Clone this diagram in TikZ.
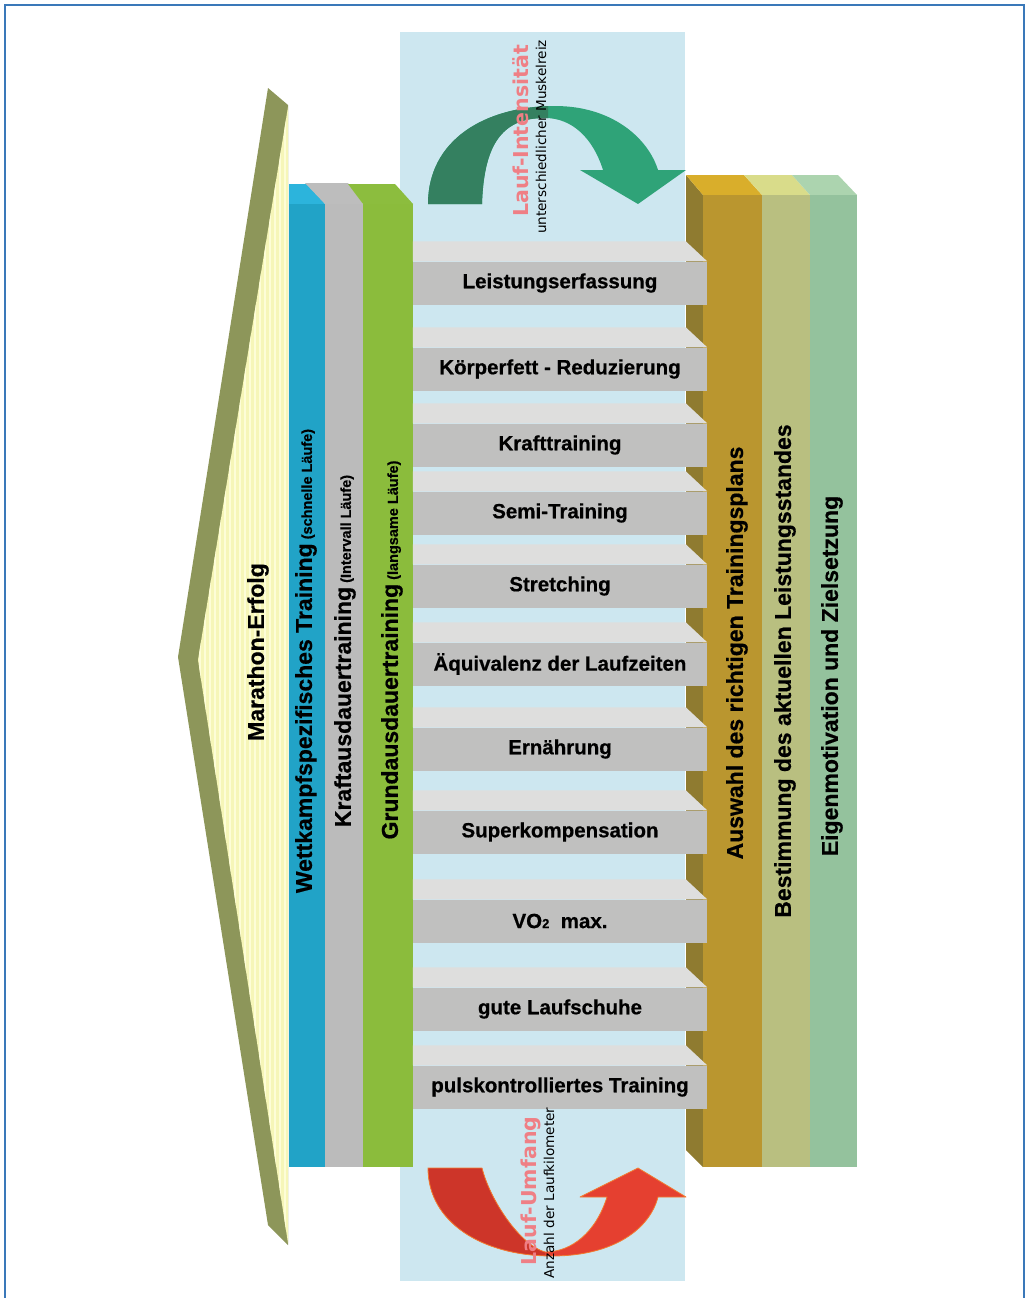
\documentclass[tikz,border=0pt]{standalone}
\usepackage{fontspec}
\setmainfont{Liberation Sans}[BoldFeatures={FakeBold=0.6}]
\newfontfamily\dejavu{DejaVu Sans}
\usetikzlibrary{positioning}

\definecolor{cFrame}{RGB}{58,120,185}
\definecolor{cSky}{RGB}{205,231,240}
\definecolor{cOlive}{RGB}{141,150,90}
\definecolor{cChevron}{RGB}{246,246,184}
\definecolor{cStripe}{RGB}{253,253,215}
\definecolor{cWkFront}{RGB}{33,163,199}
\definecolor{cWkTop}{RGB}{44,180,220}
\definecolor{cKaFront}{RGB}{187,187,187}
\definecolor{cKaTop}{RGB}{189,189,189}
\definecolor{cGaFront}{RGB}{139,188,60}
\definecolor{cGaTop}{RGB}{140,189,62}
\definecolor{cAwFront}{RGB}{186,150,47}
\definecolor{cAwTop}{RGB}{217,174,43}
\definecolor{cAwSide}{RGB}{143,123,48}
\definecolor{cBeFront}{RGB}{185,191,128}
\definecolor{cBeTop}{RGB}{217,220,138}
\definecolor{cEiFront}{RGB}{148,194,157}
\definecolor{cEiTop}{RGB}{172,212,175}
\definecolor{cBar}{RGB}{192,192,191}
\definecolor{cBarTop}{RGB}{222,222,221}
\definecolor{cPink}{RGB}{239,127,133}
\definecolor{cGreenLight}{RGB}{47,163,120}
\definecolor{cGreenDark}{RGB}{52,128,96}
\definecolor{cRedLight}{RGB}{229,64,48}
\definecolor{cRedDark}{RGB}{205,53,41}
\definecolor{cRedEdge}{RGB}{242,123,48}

\newcommand{\intensitypath}{(428,204) .. controls (428,140) and (485,106) .. (555,106) .. controls (612,106) and (648,138) .. (658,170) -- (686,170) -- (638,204) -- (580,170) -- (603,170) .. controls (593,138) and (572,118) .. (545,118) .. controls (505,118) and (484,140) .. (482,204) -- cycle}
\newcommand{\umfangpath}{(428,1168) .. controls (428,1222) and (482,1256) .. (552,1256) .. controls (615,1256) and (650,1228) .. (658,1197) -- (686,1197) -- (638,1168) -- (580,1197) -- (607,1197) .. controls (596,1232) and (572,1252) .. (545,1252) .. controls (520,1245) and (490,1200) .. (482,1168) -- cycle}
\newcommand{\smallnote}[1]{{\fontsize{14.5}{16}\selectfont\ (#1)}}

\begin{document}
\begin{tikzpicture}[
    x=1pt, y=-1pt,
    frameline/.style={draw=cFrame, line width=2pt},
    barfront/.style={rectangle, fill=cBar, minimum width=294pt, minimum height=43pt, inner sep=0pt, font=\fontsize{20.5}{24}\selectfont\bfseries},
    coltext/.style={rotate=90, inner sep=0pt, font=\fontsize{23}{26}\selectfont\bfseries},
    headline/.style={rotate=90, inner sep=0pt, text=cPink, font=\dejavu\fontsize{20.5}{24}\selectfont\bfseries},
    subline/.style={rotate=90, inner sep=0pt, font=\dejavu\fontsize{13.6}{16}\selectfont}
]
\useasboundingbox (0,0) rectangle (1027,1298);

% Frame
\draw[frameline] (5,1298) -- (5,5) -- (1024,5) -- (1024,1298);

% Background strip
\fill[cSky] (400,32) rectangle (685,1281);

% Curved arrows
\fill[cGreenLight] \intensitypath;
\begin{scope}
  \clip (400,30) rectangle (548,260);
  \fill[cGreenDark] \intensitypath;
\end{scope}
\fill[cRedLight] \umfangpath;
\begin{scope}
  \clip (400,1150) rectangle (545,1290);
  \fill[cRedDark] \umfangpath;
\end{scope}
\draw[cRedEdge, line width=0.8pt, line join=round] \umfangpath;

% Chevron
\fill[cOlive] (268,88) -- (288,105) -- (288,1245) -- (268,1225) -- (178,657) -- cycle;
\fill[cChevron] (288,107) -- (198,660) -- (288,1243) -- cycle;
\begin{scope}
  \clip (288,107) -- (198,660) -- (288,1243) -- cycle;
  \foreach \x in {200,205,...,290}
    \draw[cStripe, line width=1.4pt] (\x,100) -- (\x,1250);
\end{scope}
\node[coltext] (erfolg) at (258,652) {Marathon-Erfolg};

% Left columns
\fill[cWkTop] (289,184) -- (310,184) -- (325,204) -- (289,204) -- cycle;
\fill[cKaTop] (305,183) -- (348,183) -- (363,204) -- (325,204) -- cycle;
\fill[cGaTop] (348,184) -- (395,184) -- (413,204) -- (363,204) -- cycle;
\fill[cWkFront] (289,204) rectangle (325,1167);
\fill[cKaFront] (325,204) rectangle (363,1167);
\fill[cGaFront] (363,204) rectangle (413,1167);

% Right columns
\fill[cAwSide] (686,175) -- (703,195) -- (703,1167) -- (686,1150) -- cycle;
\fill[cAwTop] (686,175) -- (744,175) -- (762,195) -- (703,195) -- cycle;
\fill[cBeTop] (744,175) -- (792,175) -- (810,195) -- (762,195) -- cycle;
\fill[cEiTop] (792,175) -- (838,175) -- (857,195) -- (810,195) -- cycle;
\fill[cAwFront] (703,195) rectangle (762,1167);
\fill[cBeFront] (762,195) rectangle (810,1167);
\fill[cEiFront] (810,195) rectangle (857,1167);

% Bars
\foreach \c/\txt [count=\i] in {
    283/Leistungserfassung,
    369/Körperfett - Reduzierung,
    445/Krafttraining,
    513/Semi-Training,
    586/Stretching,
    664/Äquivalenz der Laufzeiten,
    749/Ernährung,
    832/Superkompensation,
    921/{VO{\fontsize{13}{13}\selectfont 2}\ \ max.},
    1009/gute Laufschuhe,
    1087/pulskontrolliertes Training}
{
  \node[barfront] (bar\i) at (560,\c) {\txt};
  \fill[cBarTop] (bar\i.north west) -- ++(0,-20) -- ++(273,0) -- (bar\i.north east) -- cycle;
}

% Arrow labels
\node[headline] (intens) at (521,131) {Lauf-Intensität};
\node[subline] (reiz) at (541,137) {unterschiedlicher Muskelreiz};
\node[headline] (umfang) at (531,1191) {Lauf-Umfang};
\node[subline] (km) at (549,1193) {Anzahl der Laufkilometer};

% Column labels
\node[coltext] (wettkampf) at (306,661) {Wettkampfspezifisches Training\smallnote{schnelle Läufe}};
\node[coltext] (kraft) at (345,651) {Kraftausdauertraining\smallnote{Intervall Läufe}};
\node[coltext] (grund) at (392,650) {Grundausdauertraining\smallnote{langsame Läufe}};
\node[coltext] (plan) at (737,653) {Auswahl des richtigen Trainingsplans};
\node[coltext] (stand) at (785,671) {Bestimmung des aktuellen Leistungsstandes};
\node[coltext] (ziel) at (832,676) {Eigenmotivation und Zielsetzung};

\end{tikzpicture}
\end{document}
